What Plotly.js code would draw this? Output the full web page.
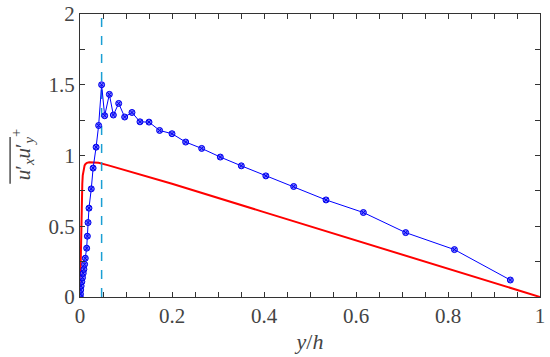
<!DOCTYPE html>
<html>
<head>
<meta charset="utf-8">
<script src="https://cdn.plot.ly/plotly-3.0.1.min.js"></script>
<style>html,body{margin:0;padding:0;background:#fff;}#chart{width:550px;height:357px;}</style>
</head>
<body>
<div id="chart"></div>
<script>
// Experimental (blue markers)
const expX = [0.0005,0.001,0.0015,0.0025,0.004,0.0055,0.007,0.0085,0.01,0.0115,0.0145,0.016,0.0175,0.0195,0.0245,0.0285,0.035,0.0405,0.047,0.0536,0.0638,0.0725,0.0841,0.0971,0.113,0.1304,0.15,0.173,0.2,0.2297,0.2645,0.305,0.3507,0.404,0.4645,0.5348,0.616,0.708,0.814,0.9355];
const expY = [0.0,0.02,0.05,0.078,0.108,0.137,0.168,0.196,0.231,0.274,0.345,0.43,0.526,0.628,0.764,0.911,1.059,1.212,1.50,1.281,1.432,1.286,1.368,1.272,1.304,1.238,1.236,1.177,1.154,1.095,1.05,0.989,0.927,0.856,0.781,0.686,0.597,0.455,0.335,0.12];
// Reference profile (red line)
const refX = [0,0.001,0.002,0.003,0.004,0.005,0.006,0.008,0.010,0.012,0.015,0.02,0.03,0.04,0.06,0.1,0.2,0.4,0.6,0.8,1.0];
const refY = [0,0.2,0.4,0.58,0.72,0.8,0.86,0.91,0.93,0.94,0.948,0.952,0.952,0.948,0.932,0.895,0.8,0.6,0.4,0.2,0.0];
// Vertical marker position
const markX = [0.047, 0.047];
const markY = [0, 2];

const FF = 'Liberation Serif';

const traces = [
  {x: refX, y: refY, mode: 'lines', line: {color: '#ff0000', width: 2}},
  {x: markX, y: markY, mode: 'lines', line: {color: '#1a9fd4', width: 1.5, dash: 'dash'}},
  {x: expX, y: expY, mode: 'lines+markers', line: {color: '#0000ff', width: 1},
   marker: {symbol: 'circle-x', size: 6, color: 'rgba(70,70,255,0.75)', line: {color: '#0000ee', width: 1}}}
];

const lay = {
  width: 550, height: 357,
  margin: {l: 80, r: 10, t: 14, b: 60},
  showlegend: false,
  xaxis: {
    showgrid: false, zeroline: false, showline: true, linecolor: '#333', linewidth: 1,
    mirror: 'ticks', ticks: 'inside', ticklen: 5, tickcolor: '#333',
    tickfont: {family: FF, size: 21},
    range: [0, 1], dtick: 0.2, tick0: 0,
    minor: {dtick: 0.05, ticks: 'inside', ticklen: 5, tickcolor: '#333'},
    title: {text: '<i>y</i>/<i>h</i>', font: {family: FF, size: 22}, standoff: 6}
  },
  yaxis: {
    showgrid: false, zeroline: false, showline: true, linecolor: '#333', linewidth: 1,
    mirror: 'ticks', ticks: 'inside', ticklen: 5, tickcolor: '#333',
    tickfont: {family: FF, size: 21},
    range: [0, 2], dtick: 0.5, tick0: 0,
    minor: {dtick: 0.25, ticks: 'inside', ticklen: 5, tickcolor: '#333'}
  },
  annotations: [{
    text: '<i>u</i>′<sub><i>x</i></sub><i>u</i>′<sub><i>y</i></sub><sup>+</sup>',
    xref: 'paper', yref: 'paper', x: -0.126, y: 0.505, textangle: -90,
    showarrow: false, xanchor: 'center', yanchor: 'middle',
    font: {family: FF, size: 21}
  }],
  shapes: [{
    type: 'line', xref: 'paper', yref: 'paper',
    x0: -0.152, x1: -0.152, y0: 0.40, y1: 0.565,
    line: {color: '#222', width: 1.2}
  }]
};

Plotly.newPlot('chart', traces, lay, {staticPlot: true});
</script>
</body>
</html>
